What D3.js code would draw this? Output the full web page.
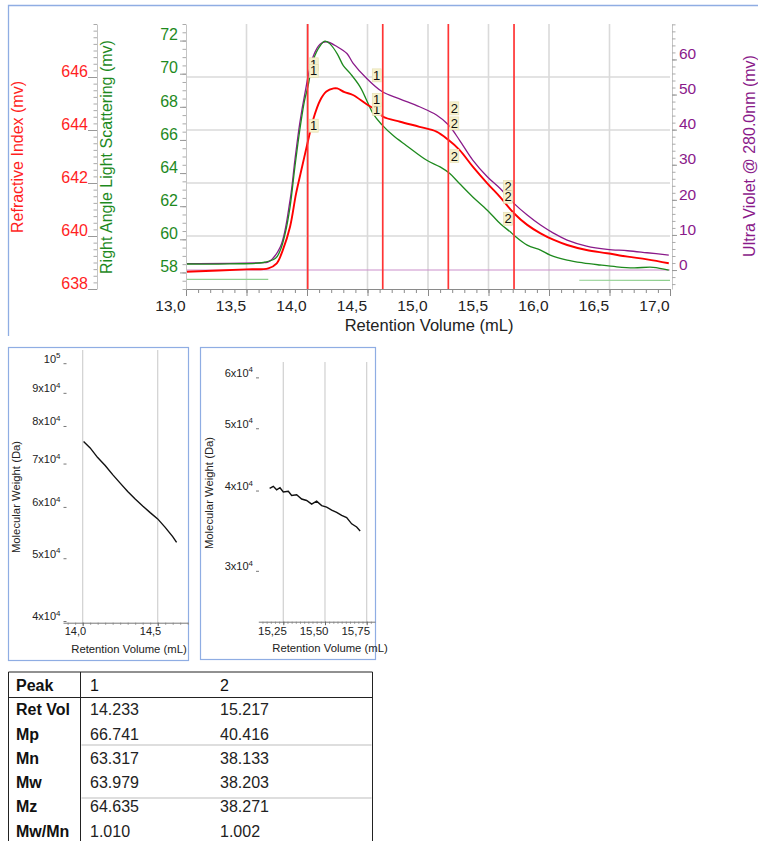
<!DOCTYPE html>
<html>
<head>
<meta charset="utf-8">
<script src="https://cdn.jsdelivr.net/npm/d3@7"></script>
<style>
  body { margin: 0; background: #fff; }
  svg { display: block; font-family: "Liberation Sans", Arial, sans-serif; }
</style>
</head>
<body>
<svg id="chart" width="758" height="841"></svg>
<script>
// ---- Chromatogram traces (retention volume in mL, detector response in mV) ----
const riVol = [13.00, 13.50, 13.68, 13.75, 13.80, 13.86, 13.91, 13.96, 14.01, 14.05, 14.11, 14.16, 14.22, 14.25, 14.31, 14.38, 14.49, 14.58, 14.63, 14.77, 14.93, 15.07, 15.17, 15.26, 15.37, 15.49, 15.60, 15.71, 15.82, 15.93, 16.04, 16.15, 16.31, 16.48, 16.65, 16.81, 16.99];
const riMv  = [638.65, 638.74, 638.78, 638.97, 639.47, 640.35, 641.61, 642.62, 643.62, 644.38, 645.13, 645.45, 645.57, 645.57, 645.43, 645.32, 644.98, 644.72, 644.50, 644.31, 644.12, 643.94, 643.62, 643.25, 642.62, 641.99, 641.45, 640.86, 640.42, 640.10, 639.85, 639.66, 639.47, 639.35, 639.22, 639.12, 638.97];

const lsVol = [13.00, 13.36, 13.64, 13.74, 13.78, 13.82, 13.86, 13.90, 13.94, 13.98, 14.01, 14.05, 14.11, 14.15, 14.19, 14.25, 14.30, 14.36, 14.44, 14.55, 14.62, 14.71, 14.82, 14.99, 15.10, 15.18, 15.26, 15.37, 15.49, 15.60, 15.68, 15.71, 15.82, 15.93, 16.01, 16.15, 16.28, 16.42, 16.56, 16.70, 16.86, 16.99];
const lsMv  = [58.51, 58.52, 58.60, 58.85, 59.35, 60.36, 61.96, 64.37, 66.58, 68.39, 69.29, 70.80, 71.70, 71.96, 71.80, 71.20, 70.49, 69.99, 69.19, 67.54, 66.91, 66.28, 65.67, 64.77, 64.37, 63.97, 63.37, 62.56, 61.76, 60.92, 60.45, 60.25, 59.65, 59.35, 59.05, 58.75, 58.58, 58.45, 58.34, 58.28, 58.31, 58.14];

const uvVol = [13.00, 13.64, 13.68, 13.78, 13.86, 13.90, 13.94, 13.98, 14.05, 14.11, 14.16, 14.25, 14.33, 14.38, 14.49, 14.62, 14.77, 14.93, 15.07, 15.17, 15.26, 15.37, 15.49, 15.60, 15.71, 15.82, 15.93, 16.04, 16.15, 16.31, 16.48, 16.65, 16.81, 16.99];
const uvMv  = [1.85, 2.14, 2.28, 6.64, 19.94, 31.34, 41.79, 49.86, 60.77, 64.39, 65.04, 63.62, 61.68, 58.97, 54.70, 50.85, 48.72, 46.52, 44.16, 41.31, 37.04, 31.34, 26.58, 23.08, 19.00, 15.67, 12.82, 10.46, 8.55, 6.84, 5.90, 5.50, 4.93, 4.27];

// baselines
const uvBaseVol = [13.0, 17.0];
const uvBaseMv = [0, 0];
const lsBaseVolA = [13.0, 13.68];
const lsBaseVolB = [16.25, 17.0];
const lsBaseMvA = [57.58, 57.58];
const lsBaseMvB = [57.53, 57.52];

// peak integration limits and their peak numbers
const peakLimits = [14.006, 14.626, 15.168, 15.711];
const peakLimitIds = ["1", "1", "2", "2"];
const peakLimitIsStart = [true, false, true, false];

// tick values
const xTicks = [13.0, 13.5, 14.0, 14.5, 15.0, 15.5, 16.0, 16.5, 17.0];
const riTicks = [638, 640, 642, 644, 646];
const lsTicks = [58, 60, 62, 64, 66, 68, 70, 72];
const uvTicks = [0, 10, 20, 30, 40, 50, 60];

// ---- Molecular weight across each peak ----
const mwVol1 = [14.006, 14.05, 14.10, 14.15, 14.20, 14.25, 14.30, 14.35, 14.40, 14.45, 14.50, 14.55, 14.60, 14.626];
const mwDa1  = [75700, 74000, 71500, 69500, 67300, 65300, 63400, 61700, 60200, 58800, 57500, 55800, 54000, 52900];
const mwVol2 = [15.168, 15.19, 15.21, 15.23, 15.25, 15.28, 15.30, 15.33, 15.36, 15.39, 15.42, 15.45, 15.48, 15.51, 15.54, 15.57, 15.60, 15.63, 15.66, 15.69, 15.711];
const mwDa2  = [40300, 40600, 40100, 40400, 39800, 39900, 39300, 39400, 38800, 38600, 38100, 38500, 37900, 37700, 37300, 37000, 36600, 36300, 35500, 35100, 34600];
const mwTicks1 = [40000, 50000, 60000, 70000, 80000, 90000, 100000];
const mwTicks2 = [30000, 40000, 50000, 60000];
const mwXTicks1 = [14.0, 14.5];
const mwXTicks2 = [15.25, 15.5, 15.75];

// ---- Results table ----
const tableHeader = ["Peak", "1", "2"];
const tableRows = ["Ret Vol", "Mp", "Mn", "Mw", "Mz", "Mw/Mn"];
const peak1Vals = ["14.233", "66.741", "63.317", "63.979", "64.635", "1.010"];
const peak2Vals = ["15.217", "40.416", "38.133", "38.203", "38.271", "1.002"];

// ---- colours ----
const RED = "#ff0000", GREEN = "#1e8a1e", PURPLE = "#8a1a8a";
const FRAME = "#8fade3";

const svg = d3.select("#chart");
const comma = p => d => d3.format("." + p + "f")(d).replace(".", ",");
const interp = (xs, ys, v) => {
  const i = Math.max(1, Math.min(xs.length - 1, d3.bisectLeft(xs, v)));
  const t = (v - xs[i - 1]) / (xs[i] - xs[i - 1]);
  return ys[i - 1] + t * (ys[i] - ys[i - 1]);
};

// ===================== main chromatogram =====================
const plotTop = 24, plotBottom = 289, plotLeft = 186, plotRight = 670;
const x = d3.scaleLinear([13, 17], [plotLeft, plotRight]);
const yRI = d3.scaleLinear([638, 648], [plotBottom, plotTop]);
const yLS = d3.scaleLinear([57, 73], [plotBottom, plotTop]);
const yUV = d3.scaleLinear([-5.4, 70.1], [plotBottom, plotTop]);

// panel frame (top and left edges)
svg.append("path").attr("d", "M8.5,336V5.5H758").attr("fill", "none")
  .attr("stroke", FRAME).attr("stroke-width", 1.3);

// grid
const grid = svg.append("g").attr("stroke", "#dadada").attr("stroke-width", 1.6);
grid.append("g").selectAll("line").data(riTicks.slice(1)).join("line")
  .attr("x1", plotLeft).attr("x2", plotRight).attr("y1", d => yRI(d)).attr("y2", d => yRI(d));
grid.append("g").selectAll("line").data(xTicks.slice(1, -1)).join("line")
  .attr("x1", d => x(d)).attr("x2", d => x(d)).attr("y1", plotTop).attr("y2", plotBottom);

// baselines
const lineOf = (sx, sy, curve) => d3.line().x(d => sx(d[0])).y(d => sy(d[1])).curve(curve || d3.curveLinear);
svg.append("path").datum(d3.zip(uvBaseVol, uvBaseMv)).attr("d", lineOf(x, yUV))
  .attr("fill", "none").attr("stroke", "#cc8fcc").attr("stroke-width", 1.1);
[[lsBaseVolA, lsBaseMvA], [lsBaseVolB, lsBaseMvB]].forEach(([vs, ms]) => {
  svg.append("path").datum(d3.zip(vs, ms)).attr("d", lineOf(x, yLS))
    .attr("fill", "none").attr("stroke", "#8fcf8f").attr("stroke-width", 1.1);
});

// traces
const smooth = d3.curveCatmullRom.alpha(0.5);
svg.append("path").datum(d3.zip(uvVol, uvMv)).attr("d", lineOf(x, yUV, smooth))
  .attr("fill", "none").attr("stroke", PURPLE).attr("stroke-width", 1.3);
svg.append("path").datum(d3.zip(lsVol, lsMv)).attr("d", lineOf(x, yLS, smooth))
  .attr("fill", "none").attr("stroke", GREEN).attr("stroke-width", 1.3);
svg.append("path").datum(d3.zip(riVol, riMv)).attr("d", lineOf(x, yRI, smooth))
  .attr("fill", "none").attr("stroke", RED).attr("stroke-width", 1.9);

// peak limit lines
svg.append("g").selectAll("line").data(peakLimits).join("line")
  .attr("x1", d => x(d)).attr("x2", d => x(d)).attr("y1", plotTop).attr("y2", plotBottom)
  .attr("stroke", "#ff3434").attr("stroke-width", 1.7);

// peak limit flags on every trace
const flagSeries = [[uvVol, uvMv, yUV], [lsVol, lsMv, yLS], [riVol, riMv, yRI]];
const flags = svg.append("g");
peakLimits.forEach((v, i) => {
  flagSeries.forEach(([vs, ms, sy]) => {
    const py = sy(interp(vs, ms, v));
    const bx = peakLimitIsStart[i] ? x(v) + 1.5 : x(v) - 10.5;
    const g = flags.append("g").attr("transform", `translate(${bx},${py - 23})`);
    g.append("rect").attr("width", 9).attr("height", 13)
      .attr("fill", "#f6f1cc").attr("stroke", "#e4ddb0").attr("stroke-width", 0.6);
    g.append("text").attr("x", 4.5).attr("y", 11).attr("text-anchor", "middle")
      .attr("font-size", 13).attr("fill", "#111").text(peakLimitIds[i]);
  });
});

// x axis
const gx = svg.append("g").attr("transform", `translate(0,${plotBottom})`);
gx.call(d3.axisBottom(x).tickValues(d3.range(130, 171).map(d => d / 10)).tickSize(4).tickFormat(""))
  .call(g => g.select(".domain").remove());
gx.selectAll(".tick line").attr("stroke", "#8a8a8a");
const gxM = svg.append("g").attr("transform", `translate(0,${plotBottom})`);
gxM.call(d3.axisBottom(x).tickValues(xTicks).tickSize(7).tickSizeOuter(0).tickFormat(comma(1)));
gxM.select(".domain").attr("stroke", "#8a8a8a");
gxM.selectAll(".tick line").attr("stroke", "#8a8a8a");
gxM.selectAll(".tick text").attr("text-anchor", "end").attr("x", -1).attr("y", 10.5)
  .attr("font-size", 15.5).attr("fill", "#222");
svg.append("text").attr("x", 429).attr("y", 331).attr("text-anchor", "middle")
  .attr("font-size", 16.5).attr("fill", "#222").text("Retention Volume (mL)");

// vertical value axis with labels sitting on their ticks
function valueAxis(scale, xPos, majors, minorStep, side, color, textOffset, tickLen, fontSize) {
  const [d0, d1] = scale.domain();
  const minors = d3.range(Math.ceil(d0 / minorStep) * minorStep, d1 + 1e-9, minorStep);
  const axisFn = side === "left" ? d3.axisLeft : d3.axisRight;
  const gm = svg.append("g").attr("transform", `translate(${xPos},0)`);
  gm.call(axisFn(scale).tickValues(minors).tickSize(3.5).tickSizeOuter(0).tickFormat(""));
  gm.select(".domain").attr("stroke", "#c4c4c4");
  gm.selectAll(".tick line").attr("stroke", "#aaa");
  const g = svg.append("g").attr("transform", `translate(${xPos},0)`);
  g.call(axisFn(scale).tickValues(majors).tickSize(tickLen).tickSizeOuter(0));
  g.select(".domain").remove();
  g.selectAll(".tick line").attr("stroke", "#999");
  g.selectAll(".tick text").attr("x", textOffset).attr("dy", "-0.05em")
    .attr("text-anchor", side === "left" ? "end" : "start")
    .attr("font-size", fontSize).attr("fill", color);
}
valueAxis(yRI, 97, riTicks, 0.25, "left", "#ff1f1f", -9, 9, 16);
valueAxis(yLS, plotLeft, lsTicks, 0.5, "left", GREEN, -8, 6, 16);
valueAxis(yUV, 672, uvTicks, 2, "right", PURPLE, 7, 5, 15.5);

// axis titles
const vTitle = (xPos, yPos, txt, color) => svg.append("text")
  .attr("transform", `translate(${xPos},${yPos}) rotate(-90)`).attr("text-anchor", "middle")
  .attr("font-size", 16).attr("fill", color).text(txt);
vTitle(23, 157, "Refractive Index (mv)", "#ff1f1f");
vTitle(112, 157, "Right Angle Light Scattering (mv)", GREEN);
vTitle(755, 156, "Ultra Violet @ 280.0nm (mv)", PURPLE);

// ===================== molecular weight panels =====================
function mwPanel(o) {
  const g = svg.append("g");
  g.append("rect").attr("x", o.box[0] + 0.5).attr("y", o.box[1] + 0.5)
    .attr("width", o.box[2] - o.box[0]).attr("height", o.box[3] - o.box[1])
    .attr("fill", "none").attr("stroke", FRAME).attr("stroke-width", 1.2);
  const sx = d3.scaleLinear(o.xDom, o.xRange);
  const sy = d3.scaleLog(o.yDom, o.yRange);
  // grid
  g.append("g").selectAll("line").data(o.xTicks).join("line")
    .attr("x1", d => sx(d)).attr("x2", d => sx(d)).attr("y1", o.yRange[1]).attr("y2", o.yRange[0])
    .attr("stroke", "#d4d4d4").attr("stroke-width", 1.3);
  // x axis
  const gxm = g.append("g").attr("transform", `translate(0,${o.yRange[0]})`);
  gxm.call(d3.axisBottom(sx).tickValues(o.xMinor).tickSize(2).tickSizeOuter(0).tickFormat(""));
  gxm.select(".domain").attr("stroke", "#777");
  gxm.selectAll(".tick line").attr("stroke", "#888");
  const gxa = g.append("g").attr("transform", `translate(0,${o.yRange[0]})`);
  gxa.call(d3.axisBottom(sx).tickValues(o.xTicks).tickSize(3.5).tickSizeOuter(0).tickFormat(comma(o.xDigits)));
  gxa.select(".domain").remove();
  gxa.selectAll(".tick line").attr("stroke", "#666");
  gxa.selectAll(".tick text").attr("text-anchor", "end").attr("x", 3).attr("y", 5)
    .attr("font-size", o.xFont).attr("fill", "#222");
  g.append("text").attr("x", o.xTitle[0]).attr("y", o.xTitle[1]).attr("text-anchor", "middle")
    .attr("font-size", 11.3).attr("fill", "#222").text("Retention Volume (mL)");
  // y axis (log)
  const gya = g.append("g").attr("transform", `translate(${o.yAxisX},0)`);
  gya.call(d3.axisLeft(sy).tickValues(o.yTicks).tickSize(3).tickSizeOuter(0));
  gya.select(".domain").remove();
  gya.selectAll(".tick line").attr("stroke", "#777");
  gya.selectAll(".tick text").attr("x", -6).attr("dy", "-0.1em").attr("text-anchor", "end")
    .attr("font-size", 11).attr("fill", "#222")
    .each(function (d) {
      const t = d3.select(this).text("");
      const e = Math.floor(Math.log10(d) + 1e-9);
      const m = Math.round(d / Math.pow(10, e));
      t.append("tspan").text(m === 1 ? "10" : `${m}x10`);
      t.append("tspan").attr("dy", "-0.55em").attr("font-size", "0.72em").text(e);
    });
  g.append("text").attr("transform", `translate(${o.yTitle[0]},${o.yTitle[1]}) rotate(-90)`)
    .attr("text-anchor", "middle").attr("font-size", 11.3).attr("fill", "#222")
    .text("Molecular Weight (Da)");
  // trace
  g.append("path").datum(d3.zip(o.vol, o.mw))
    .attr("d", d3.line().x(d => sx(d[0])).y(d => sy(d[1])))
    .attr("fill", "none").attr("stroke", "#111").attr("stroke-width", 1.4);
}

mwPanel({
  box: [8, 347, 188, 660],
  xDom: [13.869, 14.702], xRange: [63, 188],
  yDom: [39760, 104800], yRange: [622.7, 350],
  xTicks: mwXTicks1, xMinor: d3.range(1390, 1471, 5).map(d => d / 100), xDigits: 1, xFont: 11,
  yTicks: mwTicks1, yAxisX: 66.5,
  xTitle: [129, 653], yTitle: [20, 497],
  vol: mwVol1, mw: mwDa1
});
mwPanel({
  box: [200, 347, 375, 659],
  xDom: [15.10, 15.80], xRange: [258.3, 375],
  yDom: [25000, 63400], yRange: [621.7, 362],
  xTicks: mwXTicks2, xMinor: d3.range(15125, 15800, 25).map(d => d / 1000), xDigits: 2, xFont: 11.5,
  yTicks: mwTicks2, yAxisX: 259,
  xTitle: [330, 652], yTitle: [213, 493],
  vol: mwVol2, mw: mwDa2
});

// ===================== results table =====================
const tbl = svg.append("g");
const tLeft = 8.5, tRight = 372.5, tTop = 672, colX = [16, 90, 220], sepX = 80.5;
const rowY = [691, 715, 739.5, 763.7, 788, 812, 836.5];
tbl.append("path").attr("d", `M${tLeft},841V${tTop}H${tRight}V841M${sepX},${tTop}V841M${tLeft},697.5H${tRight}`)
  .attr("fill", "none").attr("stroke", "#222").attr("stroke-width", 1);
[745, 798].forEach(yy => tbl.append("line").attr("x1", sepX + 1).attr("x2", tRight - 1)
  .attr("y1", yy).attr("y2", yy).attr("stroke", "#dedede").attr("stroke-width", 2));
tableHeader.forEach((h, j) => tbl.append("text").attr("x", colX[j]).attr("y", rowY[0])
  .attr("font-size", 16).attr("font-weight", j === 0 ? "bold" : "normal").attr("fill", "#111").text(h));
tableRows.forEach((r, i) => {
  tbl.append("text").attr("x", colX[0]).attr("y", rowY[i + 1]).attr("font-size", 16)
    .attr("font-weight", "bold").attr("fill", "#111").text(r);
  tbl.append("text").attr("x", colX[1]).attr("y", rowY[i + 1]).attr("font-size", 16)
    .attr("fill", "#222").text(peak1Vals[i]);
  tbl.append("text").attr("x", colX[2]).attr("y", rowY[i + 1]).attr("font-size", 16)
    .attr("fill", "#222").text(peak2Vals[i]);
});
</script>
</body>
</html>
